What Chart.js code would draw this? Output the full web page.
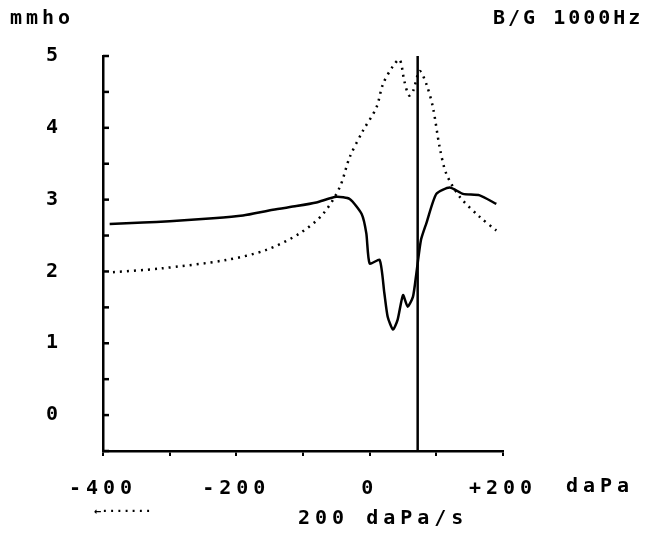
<!DOCTYPE html>
<html><head><meta charset="utf-8">
<script src="https://cdn.jsdelivr.net/npm/chart.js@4"></script>
<style>html,body{margin:0;padding:0;background:#fff}#c{display:block}</style>
</head><body>
<div style="width:655px;height:534px"><canvas id="c" width="655" height="534"></canvas></div>
<script>
const bX=[-390,-340,-300,-235,-190,-145,-110,-80,-50,-30,-12,-5,0,15,22,27,35,42,50,57,65,70,77,85,100,120,140,165,190];
const bY=[2.66,2.68,2.70,2.74,2.78,2.86,2.91,2.96,3.04,3.01,2.80,2.53,2.11,2.16,1.70,1.37,1.19,1.33,1.67,1.51,1.65,1.97,2.44,2.67,3.08,3.17,3.08,3.06,2.94];
const gX=[-385,-315,-215,-155,-105,-70,-45,-30,-10,10,20,35,45,52,59,65,75,85,95,105,115,135,165,190];
const gY=[1.99,2.04,2.16,2.30,2.53,2.80,3.17,3.59,3.96,4.28,4.61,4.86,4.95,4.65,4.45,4.51,4.79,4.61,4.28,3.73,3.36,3.04,2.76,2.57];
const peakX=72;
const yLabels=[0,1,2,3,4,5];
const xLabels={"-400":"-400","-200":"-200","0":"0","200":"+200"};
const FAM='"DejaVu Sans Mono", monospace';
const LS='5px';
const pts=(xs,ys)=>xs.map((x,i)=>({x,y:ys[i]}));
const sp={id:'sp',beforeInit(c){c.ctx.letterSpacing=LS;},beforeDraw(c){c.ctx.letterSpacing=LS;}};
const texts={id:'t',afterDraw(c){const g=c.ctx;g.save();g.fillStyle='#000';g.font='bold 20px '+FAM;g.textBaseline='middle';
g.textAlign='left';g.letterSpacing='4px';g.fillText('mmho',10,19);g.letterSpacing='3px';g.fillText('B/G 1000Hz',493,19);
g.letterSpacing=LS;g.fillText('daPa',566,487);g.fillText('200 daPa/s',298,519);
g.letterSpacing='0px';g.font='bold 12px '+FAM;g.fillText('←·······',94,512);
const y=c.scales.y,a=c.chartArea;g.strokeStyle='#000';g.lineWidth=2.5;
for(let v=-0.5;v<=5.001;v+=0.5){const p=y.getPixelForValue(v);g.beginPath();g.moveTo(a.left,p);g.lineTo(a.left+6,p);g.stroke();}
g.restore();}};
new Chart(document.getElementById('c'),{type:'scatter',
data:{datasets:[
{data:pts(bX,bY),showLine:true,borderColor:'#000',borderWidth:2.5,pointRadius:0,tension:0.2},
{data:pts(gX,gY),showLine:true,borderColor:'#000',borderWidth:2.5,borderDash:[2,5],pointRadius:0,tension:0.3},
{data:[{x:peakX,y:-0.5},{x:peakX,y:5}],showLine:true,borderColor:'#000',borderWidth:2.5,pointRadius:0}
]},
options:{responsive:false,animation:false,events:[],
layout:{padding:{top:56,right:152,left:0,bottom:0}},
plugins:{legend:{display:false},tooltip:{enabled:false}},
scales:{
x:{min:-400,max:200,afterFit:s=>{s.height=83},border:{color:'#000',width:2.5},
grid:{drawOnChartArea:false,color:'#000',tickLength:5,lineWidth:2},
ticks:{stepSize:100,autoSkip:false,maxRotation:0,padding:21,color:'#000',font:{family:'DejaVu Sans Mono',size:20,weight:'bold'},
callback:v=>xLabels[String(v)]??''}},
y:{min:-0.5,max:5,afterFit:s=>{s.width=103},border:{color:'#000',width:2.5},
grid:{display:false},
ticks:{stepSize:0.5,autoSkip:false,padding:32,color:'#000',font:{family:'DejaVu Sans Mono',size:20,weight:'bold'},
callback:v=>yLabels.includes(v)?String(v):''}}
}},plugins:[sp,texts]});
</script></body></html>
